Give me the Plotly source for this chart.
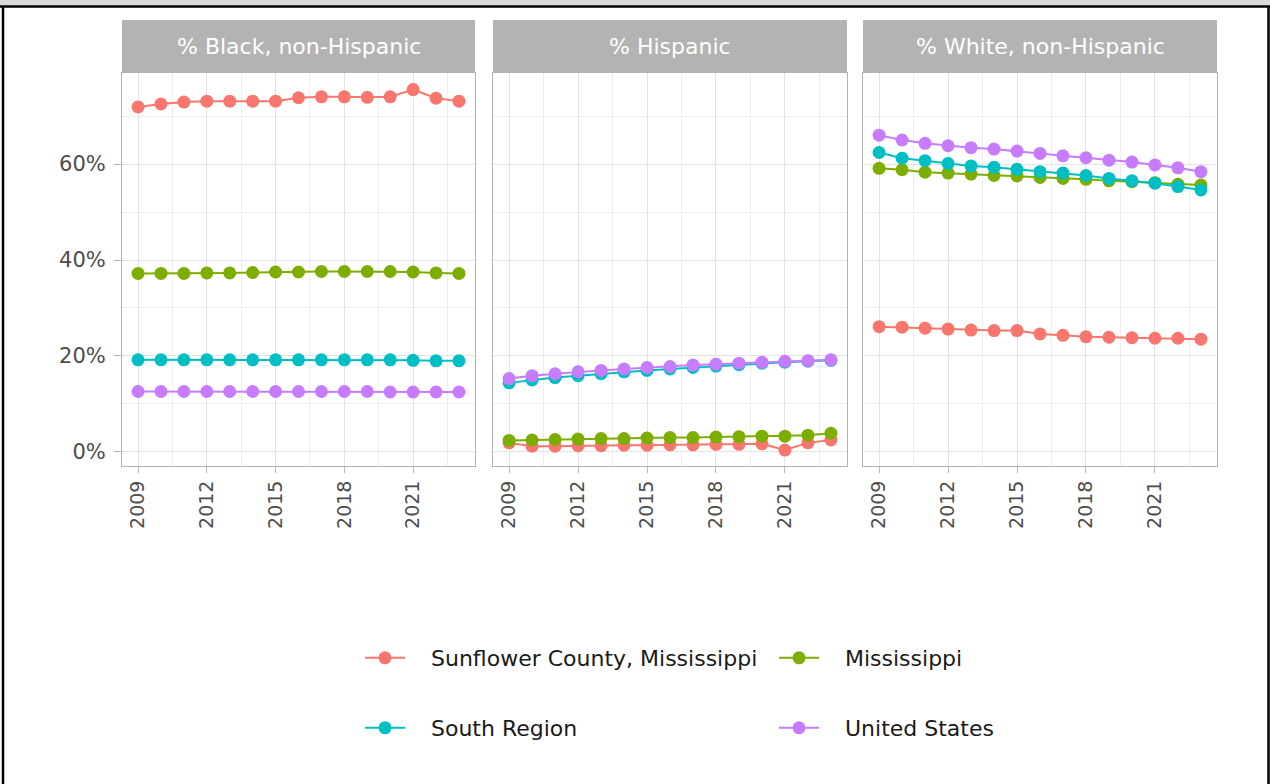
import plotly.graph_objects as go
from plotly.subplots import make_subplots

# ------------------------------------------------------------------
# dados (percentual da população, 2009-2023)
# ------------------------------------------------------------------
years = list(range(2009, 2024))

panel_titles = ["% Black, non-Hispanic", "% Hispanic", "% White, non-Hispanic"]
series_names = ["Sunflower County, Mississippi", "Mississippi", "South Region", "United States"]
series_colors = ["#F8766D", "#7CAE00", "#00BFC4", "#C77CFF"]

black_sunflower = [71.9, 72.5, 72.9, 73.1, 73.1, 73.1, 73.1, 73.8, 74.0, 74.0, 73.9, 74.0, 75.5, 73.7, 73.1]
black_mississippi = [37.2, 37.2, 37.2, 37.3, 37.3, 37.4, 37.5, 37.5, 37.6, 37.6, 37.6, 37.6, 37.5, 37.3, 37.2]
black_south = [19.2, 19.2, 19.2, 19.2, 19.2, 19.2, 19.2, 19.2, 19.2, 19.2, 19.2, 19.2, 19.1, 19.0, 19.0]
black_us = [12.6, 12.6, 12.6, 12.6, 12.6, 12.6, 12.6, 12.6, 12.6, 12.6, 12.6, 12.5, 12.5, 12.5, 12.5]

hisp_sunflower = [1.9, 1.2, 1.2, 1.3, 1.3, 1.4, 1.4, 1.5, 1.5, 1.6, 1.6, 1.7, 0.4, 1.9, 2.5]
hisp_mississippi = [2.4, 2.5, 2.6, 2.7, 2.8, 2.8, 2.9, 3.0, 3.0, 3.1, 3.2, 3.3, 3.3, 3.5, 3.9]
hisp_south = [14.4, 15.0, 15.5, 15.9, 16.3, 16.7, 17.0, 17.3, 17.6, 17.9, 18.2, 18.5, 18.7, 18.9, 19.1]
hisp_us = [15.3, 15.9, 16.3, 16.7, 17.0, 17.3, 17.6, 17.8, 18.1, 18.3, 18.5, 18.7, 18.9, 19.0, 19.2]

white_sunflower = [26.1, 26.0, 25.8, 25.6, 25.4, 25.3, 25.3, 24.6, 24.3, 24.0, 23.9, 23.8, 23.7, 23.7, 23.5]
white_mississippi = [59.1, 58.8, 58.3, 58.1, 57.9, 57.6, 57.5, 57.2, 57.0, 56.8, 56.5, 56.3, 56.1, 55.8, 55.6]
white_south = [62.4, 61.2, 60.7, 60.1, 59.6, 59.3, 58.9, 58.4, 58.1, 57.6, 57.0, 56.5, 56.0, 55.3, 54.6]
white_us = [66.0, 65.0, 64.3, 63.8, 63.4, 63.1, 62.7, 62.2, 61.7, 61.3, 60.8, 60.4, 59.8, 59.2, 58.4]

panels = [
    [black_sunflower, black_mississippi, black_south, black_us],
    [hisp_sunflower, hisp_mississippi, hisp_south, hisp_us],
    [white_sunflower, white_mississippi, white_south, white_us],
]

x_ticks = [2009, 2012, 2015, 2018, 2021]
y_ticks = [0, 20, 40, 60]

# ------------------------------------------------------------------
# geometria em pixels (janela 1270x784)
# ------------------------------------------------------------------
W, H = 1270, 784
PL, PR, PT, PB = 122, 1217, 73, 466
pw, ph = PR - PL, PB - PT


def px_x(x):
    return (x - PL) / pw


def px_y(y):
    return (PB - y) / ph


domains = [(122, 475), (493, 847), (863, 1217)]

fig = make_subplots(rows=1, cols=3, shared_yaxes=True, horizontal_spacing=0.01)

FONT = "DejaVu Sans"
GRID = "#e3e3e3"
MINOR = "#efefef"
BORDER = "#b3b3b3"
NBSP = "\u00a0" * 3  # espaço entre o símbolo e o texto da legenda

for col, values in enumerate(panels, start=1):
    for name, color, ys in zip(series_names, series_colors, values):
        legend_id = "legend" if name in ("Sunflower County, Mississippi", "Mississippi") else "legend2"
        fig.add_trace(
            go.Scatter(
                x=years,
                y=ys,
                mode="lines+markers",
                name=NBSP + name,
                line=dict(color=color, width=2),
                marker=dict(color=color, size=13),
                showlegend=(col == 1),
                legend=legend_id,
                hovertemplate=f"{name}<br>%{{x}}: %{{y:.1f}}%<extra></extra>",
            ),
            row=1,
            col=col,
        )

for i, (a, b) in enumerate(domains):
    axis_x = "xaxis" if i == 0 else f"xaxis{i + 1}"
    axis_y = "yaxis" if i == 0 else f"yaxis{i + 1}"
    fig.layout[axis_x].update(
        domain=[px_x(a), px_x(b)],
        range=[2008.3, 2023.7],
        tickvals=x_ticks,
        ticktext=[str(t) for t in x_ticks],
        tickangle=-90,
        ticks="outside",
        ticklen=6,
        tickcolor=BORDER,
        tickfont=dict(family=FONT, size=19, color="#4d4d4d"),
        showgrid=True,
        gridcolor=GRID,
        gridwidth=1,
        minor=dict(tick0=2009, dtick=1.5, showgrid=True, gridcolor=MINOR, gridwidth=1),
        showline=True,
        linecolor=BORDER,
        linewidth=1,
        mirror=True,
        zeroline=False,
    )
    fig.layout[axis_y].update(
        range=[-2.92, 78.96],
        tickvals=y_ticks,
        ticktext=[f"{t}%" for t in y_ticks],
        ticks="outside" if i == 0 else "",
        ticklen=7,
        tickcolor=BORDER,
        showticklabels=(i == 0),
        ticklabelstandoff=4,
        tickfont=dict(family=FONT, size=21, color="#4d4d4d"),
        showgrid=True,
        gridcolor=GRID,
        gridwidth=1,
        minor=dict(tick0=0, dtick=10, showgrid=True, gridcolor=MINOR, gridwidth=1),
        showline=True,
        linecolor=BORDER,
        linewidth=1,
        mirror=True,
        zeroline=False,
    )

    # faixa cinza do título do painel
    fig.add_shape(
        type="rect",
        xref="paper",
        yref="paper",
        x0=px_x(a),
        x1=px_x(b),
        y0=px_y(72),
        y1=px_y(20),
        fillcolor=BORDER,
        line=dict(width=0),
    )
    fig.add_annotation(
        x=(px_x(a) + px_x(b)) / 2,
        y=px_y(46),
        xref="paper",
        yref="paper",
        xanchor="center",
        yanchor="middle",
        text=panel_titles[i],
        showarrow=False,
        font=dict(family=FONT, size=22, color="white"),
    )

# moldura da imagem original
fig.add_shape(type="rect", xref="paper", yref="paper", x0=px_x(0), x1=px_x(W), y0=px_y(5.5), y1=px_y(0),
              fillcolor="#d9d9d9", line=dict(width=0))
fig.add_shape(type="line", xref="paper", yref="paper", x0=px_x(0), x1=px_x(W), y0=px_y(6.5), y1=px_y(6.5),
              line=dict(color="black", width=2.5))
fig.add_shape(type="line", xref="paper", yref="paper", x0=px_x(3), x1=px_x(3), y0=px_y(6), y1=px_y(H),
              line=dict(color="black", width=2.5))
fig.add_shape(type="line", xref="paper", yref="paper", x0=px_x(1268.5), x1=px_x(1268.5), y0=px_y(6), y1=px_y(H),
              line=dict(color="black", width=2.5))

legend_style = dict(
    orientation="h",
    xanchor="left",
    yanchor="middle",
    x=px_x(360),
    font=dict(family=FONT, size=22, color="#1a1a1a"),
    itemwidth=40,
    entrywidth=359,
    entrywidthmode="pixels",
    bgcolor="rgba(0,0,0,0)",
    itemclick=False,
    itemdoubleclick=False,
)

fig.update_layout(
    width=W,
    height=H,
    margin=dict(l=PL, r=W - PR, t=PT, b=H - PB),
    paper_bgcolor="white",
    plot_bgcolor="white",
    legend=dict(legend_style, y=px_y(658)),
    legend2=dict(legend_style, y=px_y(728)),
)

# tira a margem padrão do <body> para a figura começar no pixel 0
fig.write_html(
    "out.html",
    config={"displayModeBar": False},
    post_script="document.body.style.margin='0';",
)
